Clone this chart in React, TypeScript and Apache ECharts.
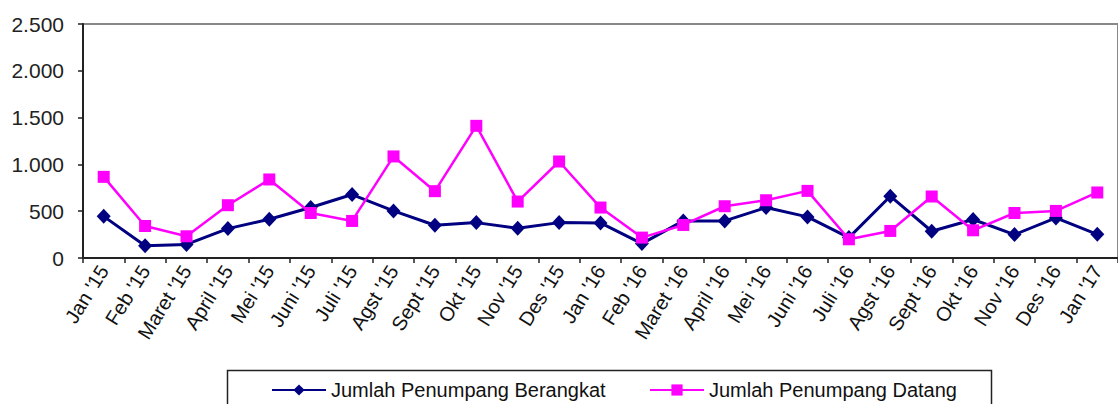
import React, { useEffect, useRef } from "react";
import * as echarts from "echarts";

const categories = [
  "Jan '15", "Feb '15", "Maret '15", "April '15", "Mei '15", "Juni '15", "Juli '15",
  "Agst '15", "Sept '15", "Okt '15", "Nov '15", "Des '15", "Jan '16", "Feb '16",
  "Maret '16", "April '16", "Mei '16", "Juni '16", "Juli '16", "Agst '16", "Sept '16",
  "Okt '16", "Nov '16", "Des '16", "Jan '17",
];

const berangkat = [
  445, 130, 145, 314, 414, 539, 678, 503, 350, 378, 318, 378, 375, 154,
  396, 396, 539, 439, 218, 660, 286, 411, 250, 428, 253,
];

const datang = [
  867, 342, 232, 564, 839, 481, 396, 1085, 714, 1412, 603, 1031, 539, 218,
  353, 553, 617, 717, 200, 289, 657, 296, 481, 503, 700,
];

const yTicks = [0, 500, 1000, 1500, 2000, 2500];

const FONT = "'Liberation Sans', Arial, sans-serif";

function fmt(v: number): string {
  if (v < 1000) return String(v);
  const th = Math.floor(v / 1000);
  const rest = String(v % 1000).padStart(3, "0");
  return th + "." + rest;
}

export default function App() {
  const ref = useRef<HTMLDivElement>(null);
  useEffect(() => {
    document.body.style.margin = "0";
    const chart = echarts.init(ref.current!, null, { renderer: "svg" });
    chart.setOption({
      animation: false,
      backgroundColor: "#ffffff",
      grid: {
        left: 83,
        top: 24,
        width: 1049,
        height: 234,
        show: true,
        borderColor: "#888888",
        borderWidth: 2,
        backgroundColor: "transparent",
      },
      legend: [
        {
          left: 271,
          top: 380,
          padding: 0,
          itemWidth: 54,
          itemHeight: 14,
          itemGap: 5,
          data: ["Jumlah Penumpang Berangkat"],
          textStyle: { fontFamily: FONT, fontSize: 20, color: "#111" },
        },
        {
          left: 649,
          top: 380,
          padding: 0,
          itemWidth: 54,
          itemHeight: 14,
          data: ["Jumlah Penumpang Datang"],
          textStyle: { fontFamily: FONT, fontSize: 20, color: "#111" },
        },
      ],
      graphic: [
        {
          type: "rect",
          shape: { x: 227.5, y: 370.5, width: 764, height: 60 },
          style: { fill: "none", stroke: "#222", lineWidth: 1.5 },
          z: -1,
        },
      ],
      xAxis: {
        type: "category",
        data: categories,
        boundaryGap: true,
        axisLine: { show: true, lineStyle: { color: "#222", width: 2 } },
        axisTick: { show: true, length: 5, lineStyle: { color: "#222", width: 1.5 } },
        axisLabel: {
          interval: 0,
          rotate: 58,
          margin: 9,
          fontFamily: FONT,
          fontSize: 20,
          color: "#111",
        },
        splitLine: { show: false },
      },
      yAxis: {
        type: "value",
        min: yTicks[0],
        max: yTicks[yTicks.length - 1],
        interval: 500,
        axisLine: { show: true, lineStyle: { color: "#222", width: 2 } },
        axisTick: { show: true, length: 5, lineStyle: { color: "#222", width: 1.5 } },
        axisLabel: {
          fontFamily: FONT,
          fontSize: 21,
          color: "#222",
          margin: 19,
          formatter: (v: number) => fmt(v),
        },
        splitLine: { show: false },
      },
      series: [
        {
          name: "Jumlah Penumpang Berangkat",
          type: "line",
          data: berangkat,
          symbol: "diamond",
          symbolSize: [14, 15],
          itemStyle: { color: "#000080" },
          lineStyle: { color: "#000080", width: 3 },
          z: 3,
        },
        {
          name: "Jumlah Penumpang Datang",
          type: "line",
          data: datang,
          symbol: "rect",
          symbolSize: 12,
          itemStyle: { color: "#ff00ff" },
          lineStyle: { color: "#ff00ff", width: 2.5 },
          z: 4,
        },
      ],
    });
    return () => chart.dispose();
  }, []);
  return (
    <div
      ref={ref}
      style={{ position: "absolute", left: 0, top: 0, width: 1118, height: 404 }}
    />
  );
}
